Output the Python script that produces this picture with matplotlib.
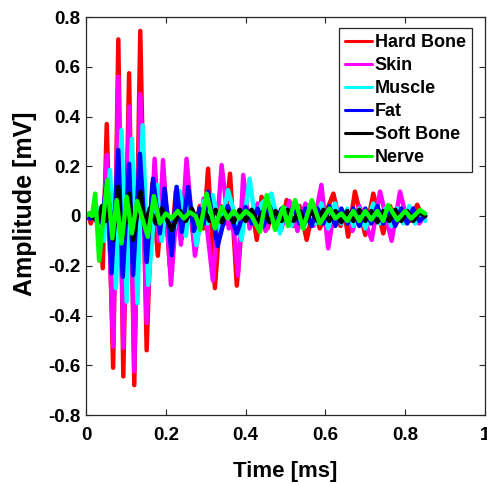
import matplotlib
matplotlib.use("Agg")
import matplotlib.pyplot as plt

plt.rcParams['font.family'] = ['Liberation Sans', 'DejaVu Sans']
plt.rcParams['font.weight'] = 'bold'

# ---------------- data ----------------
labels = ["Hard Bone", "Skin", "Muscle", "Fat", "Soft Bone", "Nerve"]
colors = ["#ff0000", "#ff00ff", "#00ffff", "#0000ff", "#000000", "#00ff00"]

t_hard = [0, .006, .012, .018, .025, .032, .042, .052, .068, .081, .0935, .108, .121, .136, .152,
          .166, .18, .195, .21, .225, .24, .255, .27, .285, .295, .306, .323, .338, .348, .361, .378,
          .395, .41, .418, .428, .44, .455, .47, .487, .503, .52, .535, .553, .57, .586, .62, .638,
          .648, .657, .674, .70, .72, .745, .762, .778, .795, .812, .83, .845, .85]
v_hard = [0, .005, -.03, .01, -.005, .02, -.21, .37, -.61, .71, -.645, .574, -.68, .744, -.54,
          .13, -.16, .15, -.2, .1, -.09, .12, -.1, .04, -.05, .19, -.29, .04, -.03, .17, -.28,
          .05, -.02, .01, -.096, .077, -.05, .03, -.06, .064, -.04, .04, -.096, .03, -.05, .09, -.04,
          .01, -.083, .098, -.076, .09, -.07, .04, -.03, .03, -.02, .045, -.01, 0]

t_skin = [0, .008, .016, .024, .032, .042, .052, .068, .081, .0935, .108, .121, .136, .152, .172,
          .183, .193, .213, .228, .238, .252, .273, .295, .318, .34, .358, .366, .381, .394, .41,
          .43, .45, .47, .49, .51, .53, .55, .57, .59, .607, .625, .64, .655, .668, .685, .716,
          .737, .766, .787, .805, .82, .835, .85]
v_skin = [0, -.01, .01, -.02, .03, -.1, .245, -.525, .56, -.53, .44, -.625, .49, -.43, .23,
          -.1, .225, -.277, .05, -.115, .23, -.16, .07, -.26, .205, -.05, .02, -.24, .165, -.05,
          .05, -.06, .04, -.05, .06, -.06, .05, -.04, .125, -.13, .05, -.03, .02, -.06, .04, -.096,
          .098, -.1, .098, -.02, .03, -.03, 0]

t_muscle = [0, .01, .02, .03, .045, .06, .075, .089, .102, .115, .129, .142, .156, .177, .19,
            .2, .215, .235, .25, .262, .277, .295, .305, .318, .337, .356, .39, .41, .425, .44,
            .465, .486, .5, .515, .53, .545, .56, .575, .59, .607, .624, .64, .655, .67, .685,
            .70, .72, .735, .75, .765, .78, .795, .81, .825, .84, .85]
v_muscle = [0, .01, -.01, .03, -.1, .185, -.29, .345, -.344, .31, -.35, .365, -.277, .125, -.1,
            .05, -.12, .1, -.08, .05, -.117, .06, -.03, .084, -.06, .104, -.096, .15, -.03, .05,
            .09, -.07, .03, -.04, .04, -.05, .04, -.03, .05, -.05, .05, -.03, .03, -.04, .03,
            -.05, .05, -.03, .03, -.04, .03, -.03, .04, -.03, .02, -.02]

t_fat = [0, .01, .02, .03, .04, .052, .064, .081, .092, .108, .118, .135, .152, .168, .185, .197,
         .215, .227, .24, .256, .27, .285, .295, .306, .33, .355, .378, .4, .415, .43, .445, .46,
         .475, .49, .505, .52, .535, .55, .565, .58, .595, .61, .625, .64, .655, .67, .685, .70,
         .715, .73, .745, .76, .775, .79, .805, .82, .835, .85]
v_fat = [0, -.01, .01, -.01, -.03, .145, -.23, .265, -.245, .21, -.237, .25, -.185, .15, -.07, .11,
         -.157, .117, -.064, .117, -.06, .03, -.03, .097, -.12, .04, -.07, .036, -.03, .03, -.04, .04,
         -.03, .03, -.03, .04, -.03, .03, -.04, .03, -.03, .04, -.04, .03, -.03, .03, -.04, .03,
         -.03, .04, -.03, .03, -.04, .03, -.03, .03, -.02, 0]

t_soft = [0, .01, .02, .03, .04, .05, .058, .068, .081, .09, .108, .118, .137, .146, .16, .175,
          .19, .215, .235, .25, .265, .28, .295, .31, .325, .34, .355, .37, .385, .40, .415, .43,
          .445, .46, .475, .49, .505, .52, .535, .55, .565, .58, .595, .61, .625, .64, .655, .67,
          .685, .70, .715, .73, .745, .76, .775, .79, .805, .82, .835, .85]
v_soft = [0, .01, -.01, -.02, .04, -.02, .05, -.096, .117, -.1, .09, -.096, .097, -.044, .03, -.03,
          .03, -.056, .02, -.02, .03, -.025, .025, -.02, .025, -.025, .02, -.025, .025, -.02, .025,
          -.025, .02, -.025, .02, -.02, .025, -.02, .02, -.025, .02, -.02, .025, -.02, .02, -.025,
          .02, -.02, .025, -.02, .02, -.025, .02, -.02, .025, -.02, .02, -.02, .015, 0]

t_nerve = [0, .008, .015, .023, .033, .053, .066, .077, .089, .102, .115, .128, .155, .17, .185,
           .2, .215, .23, .245, .26, .275, .286, .302, .323, .34, .355, .37, .385, .40, .415, .436,
           .453, .474, .494, .506, .524, .544, .566, .586, .61, .625, .64, .655, .67, .685, .70,
           .715, .73, .745, .757, .78, .80, .815, .837, .85]
v_nerve = [0, .01, 0, .09, -.18, .145, -.09, .064, -.11, .077, -.07, .06, -.084, .08, -.03,
           .01, -.01, .02, -.01, .015, 0, -.056, .09, -.05, .036, -.01, .02, -.01, .02, 0, -.064,
           .084, -.056, .036, -.04, .064, -.05, .064, -.03, .03, -.01, .01, -.02, .02, -.02, .02,
           -.015, .02, -.02, .044, -.016, .02, -.01, .024, .01]

series_t = [t_hard, t_skin, t_muscle, t_fat, t_soft, t_nerve]
series_v = [v_hard, v_skin, v_muscle, v_fat, v_soft, v_nerve]

x_ticks = [0, 0.2, 0.4, 0.6, 0.8, 1]
x_ticklabels = ["0", "0.2", "0.4", "0.6", "0.8", "1"]
y_ticks = [-0.8, -0.6, -0.4, -0.2, 0, 0.2, 0.4, 0.6, 0.8]
y_ticklabels = ["-0.8", "-0.6", "-0.4", "-0.2", "0", "0.2", "0.4", "0.6", "0.8"]

# ---------------- figure ----------------
fig = plt.figure(figsize=(4.87, 4.83), dpi=100)
ax = fig.add_axes([86 / 487, 1 - 415 / 483, 399 / 487, 398 / 483])

for t, v, c, lab in zip(series_t, series_v, colors, labels):
    ax.plot(t, v, color=c, lw=3.2, label=lab, solid_joinstyle='round',
            solid_capstyle='round')

ax.set_xlim(0, 1)
ax.set_ylim(-0.8, 0.8)
ax.set_xticks(x_ticks)
ax.set_xticklabels(x_ticklabels)
ax.set_yticks(y_ticks)
ax.set_yticklabels(y_ticklabels)
ax.tick_params(direction='in', top=True, right=True, length=4, width=0.8,
               labelsize=13.5, color='#262626')
ax.tick_params(axis='x', pad=9)
ax.tick_params(axis='y', pad=4)
for lab in ax.get_xticklabels() + ax.get_yticklabels():
    lab.set_fontweight('bold')
for s in ax.spines.values():
    s.set_color('#262626')
    s.set_linewidth(0.9)

ax.set_xlabel("Time [ms]", fontsize=16, fontweight='bold', labelpad=12)
ax.set_ylabel("Amplitude [mV]", fontsize=18, fontweight='bold')
ax.yaxis.set_label_coords(-0.122, 0.531)

leg = ax.legend(loc='upper right', bbox_to_anchor=((472 - 86) / 399, (415 - 28) / 398),
                borderaxespad=0, prop={'weight': 'bold', 'size': 13},
                handlelength=1.5, handletextpad=0.15, labelspacing=0.33,
                borderpad=0.35, fancybox=False, framealpha=1)
leg.get_frame().set_edgecolor('#262626')
leg.get_frame().set_linewidth(0.9)
for h in leg.get_lines():
    h.set_linewidth(2.2)

fig.savefig("out.png", dpi=100)
